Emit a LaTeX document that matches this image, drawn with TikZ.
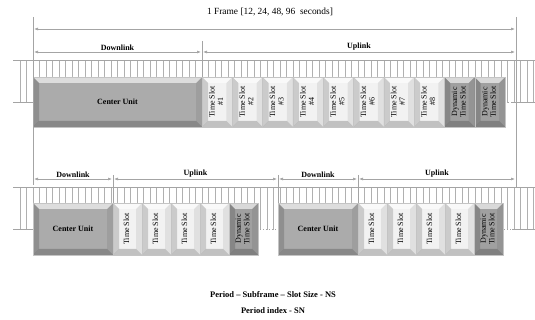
\documentclass[tikz,border=0pt]{standalone}
\usepackage{fontspec}
\setmainfont{Liberation Serif}
\usetikzlibrary{arrows.meta,positioning,calc}
\definecolor{linegray}{HTML}{A4A4A4}
\definecolor{hatchgray}{HTML}{B0B0B0}
\definecolor{unitgray}{HTML}{ABABAB}
\definecolor{slotgray}{HTML}{F2F2F2}
\definecolor{dyngray}{HTML}{A0A0A0}
\definecolor{boxedge}{HTML}{C4C4C4}
\newcommand\slotlbl[1]{\rotatebox{90}{\begin{tabular}{@{}c@{}}#1\end{tabular}}}
\tikzset{
bevel/.style={path picture={
  \coordinate (bnw) at (path picture bounding box.north west);
  \coordinate (bne) at (path picture bounding box.north east);
  \coordinate (bsw) at (path picture bounding box.south west);
  \coordinate (bse) at (path picture bounding box.south east);
  \fill[white,opacity=.6](bnw)--(bne)--([shift={(-6pt,-6pt)}]bne)--([shift={(6pt,-6pt)}]bnw)--cycle;
  \fill[black,opacity=.16](bnw)--([shift={(6pt,-6pt)}]bnw)--([shift={(6pt,6pt)}]bsw)--(bsw)--cycle;
  \fill[black,opacity=.07](bne)--([shift={(-6pt,-6pt)}]bne)--([shift={(-6pt,6pt)}]bse)--(bse)--cycle;
  \fill[black,opacity=.2](bsw)--([shift={(6pt,6pt)}]bsw)--([shift={(-6pt,6pt)}]bse)--(bse)--cycle;
}},
cell/.style={bevel,draw=boxedge,line width=.4pt,inner sep=0pt,outer sep=0pt,minimum height=50pt,font=\fontsize{8}{8.5}\selectfont},
unit/.style={cell,fill=unitgray,font=\bfseries\fontsize{8}{9}\selectfont},
slot/.style={cell,fill=slotgray,minimum width=30.3pt},
dynslot/.style={cell,fill=dyngray,minimum width=30.3pt},
span/.style={{Latex[length=4pt,width=3pt]}-{Latex[length=4pt,width=3pt]},draw=linegray,line width=.6pt,shorten <=1pt,shorten >=1pt},
guide/.style={draw=linegray,line width=.8pt},
band/.style={draw=linegray,line width=1pt},
hatch/.style={draw=hatchgray,line width=.5pt},
tag/.style={above,inner sep=1.5pt,font=\bfseries\fontsize{8}{9}\selectfont},
note/.style={font=\bfseries\fontsize{8.5}{10}\selectfont,inner sep=0pt}
}
\begin{document}
\begin{tikzpicture}[x=1pt,y=-1pt]
\useasboundingbox (0,0) rectangle (535,320);
\node[font=\fontsize{9.4}{11}\selectfont](frame)at(270,12){1 Frame [12, 24, 48, 96~ seconds]};
% hatched bands
\foreach \x in {20,26.5,...,534}\draw[hatch](\x,61)--(\x,103);
\draw[band](13,61)--(535,61);\draw[band](13,103)--(33,103);
\draw[band,dotted](505,103)--(512,103);\draw[band](512,103)--(535,103);
\foreach \x in {20,26.5,...,534}\draw[hatch](\x,188)--(\x,230);
\draw[band](13,188)--(535,188);\draw[band](13,230)--(33,230);
\draw[band,dotted](260,230)--(276,230);
\draw[band,dotted](504,230)--(512,230);\draw[band](512,230)--(535,230);
% one frame
\node[unit,minimum width=169pt,anchor=north west,alias=t0](cu)at(33,77){Center Unit};
\foreach \n [remember=\n as \p (initially 0)] in {1,...,8}
  \node[slot,right=0pt of t\p](t\n){\slotlbl{Time Slot\\\#\n}};
\node[dynslot,right=0pt of t8](d1){\slotlbl{Dynamic\\Time Slot}};
\node[dynslot,right=0pt of d1](d2){\slotlbl{Dynamic\\Time Slot}};
% two subframes
\node[unit,minimum width=80pt,minimum height=52pt,anchor=north west,alias=a0](cua)at(33,203){Center Unit};
\foreach \n [remember=\n as \p (initially 0)] in {1,...,4}
  \node[slot,minimum width=29pt,minimum height=52pt,right=0pt of a\p](a\n){\slotlbl{Time Slot}};
\node[dynslot,minimum width=29pt,minimum height=52pt,right=0pt of a4](ad){\slotlbl{Dynamic\\Time Slot}};
\node[unit,minimum width=80pt,minimum height=52pt,anchor=north west,alias=b0](cub)at(278,203){Center Unit};
\foreach \n [remember=\n as \p (initially 0)] in {1,...,4}
  \node[slot,minimum width=29pt,minimum height=52pt,right=0pt of b\p](b\n){\slotlbl{Time Slot}};
\node[dynslot,minimum width=29pt,minimum height=52pt,right=0pt of b4](bd){\slotlbl{Dynamic\\Time Slot}};
% guides and spans
\coordinate(gl)at(33,17);\coordinate(gr)at(516,17);
\draw[guide](gl)--++(0,168);\draw[guide](gr)--++(0,170);
\coordinate(fa)at(33,29);\coordinate(fb)at(516,29);
\draw[span](fa)--(fb);
\coordinate(ua)at([yshift=25pt]cu.north east);
\draw[guide]([yshift=36pt]cu.north east)--(cu.north east);
\draw[span]([yshift=25pt]cu.north west)--node[tag]{Downlink}(ua);
\draw[span](ua)--node[tag]{Uplink}(ua-|gr);
\draw[guide]([yshift=28pt]cua.north east)--(cua.north east);
\draw[guide]([yshift=28pt]cub.north west)--(cub.north west);
\draw[guide]([yshift=28pt]cub.north east)--(cub.north east);
\coordinate(ub)at([yshift=24pt]cub.north east);
\draw[span]([yshift=24pt]cua.north west)--node[tag]{Downlink}([yshift=24pt]cua.north east);
\draw[span]([yshift=24pt]cua.north east)--node[tag]{Uplink}([yshift=24pt]cub.north west);
\draw[span]([yshift=24pt]cub.north west)--node[tag]{Downlink}(ub);
\draw[span](ub)--node[tag]{Uplink}(ub-|gr);
% notes
\node[note](ns)at(273,295){Period – Subframe – Slot Size - NS};
\node[note,below=9pt of ns](sn){Period index - SN};
\end{tikzpicture}
\end{document}
